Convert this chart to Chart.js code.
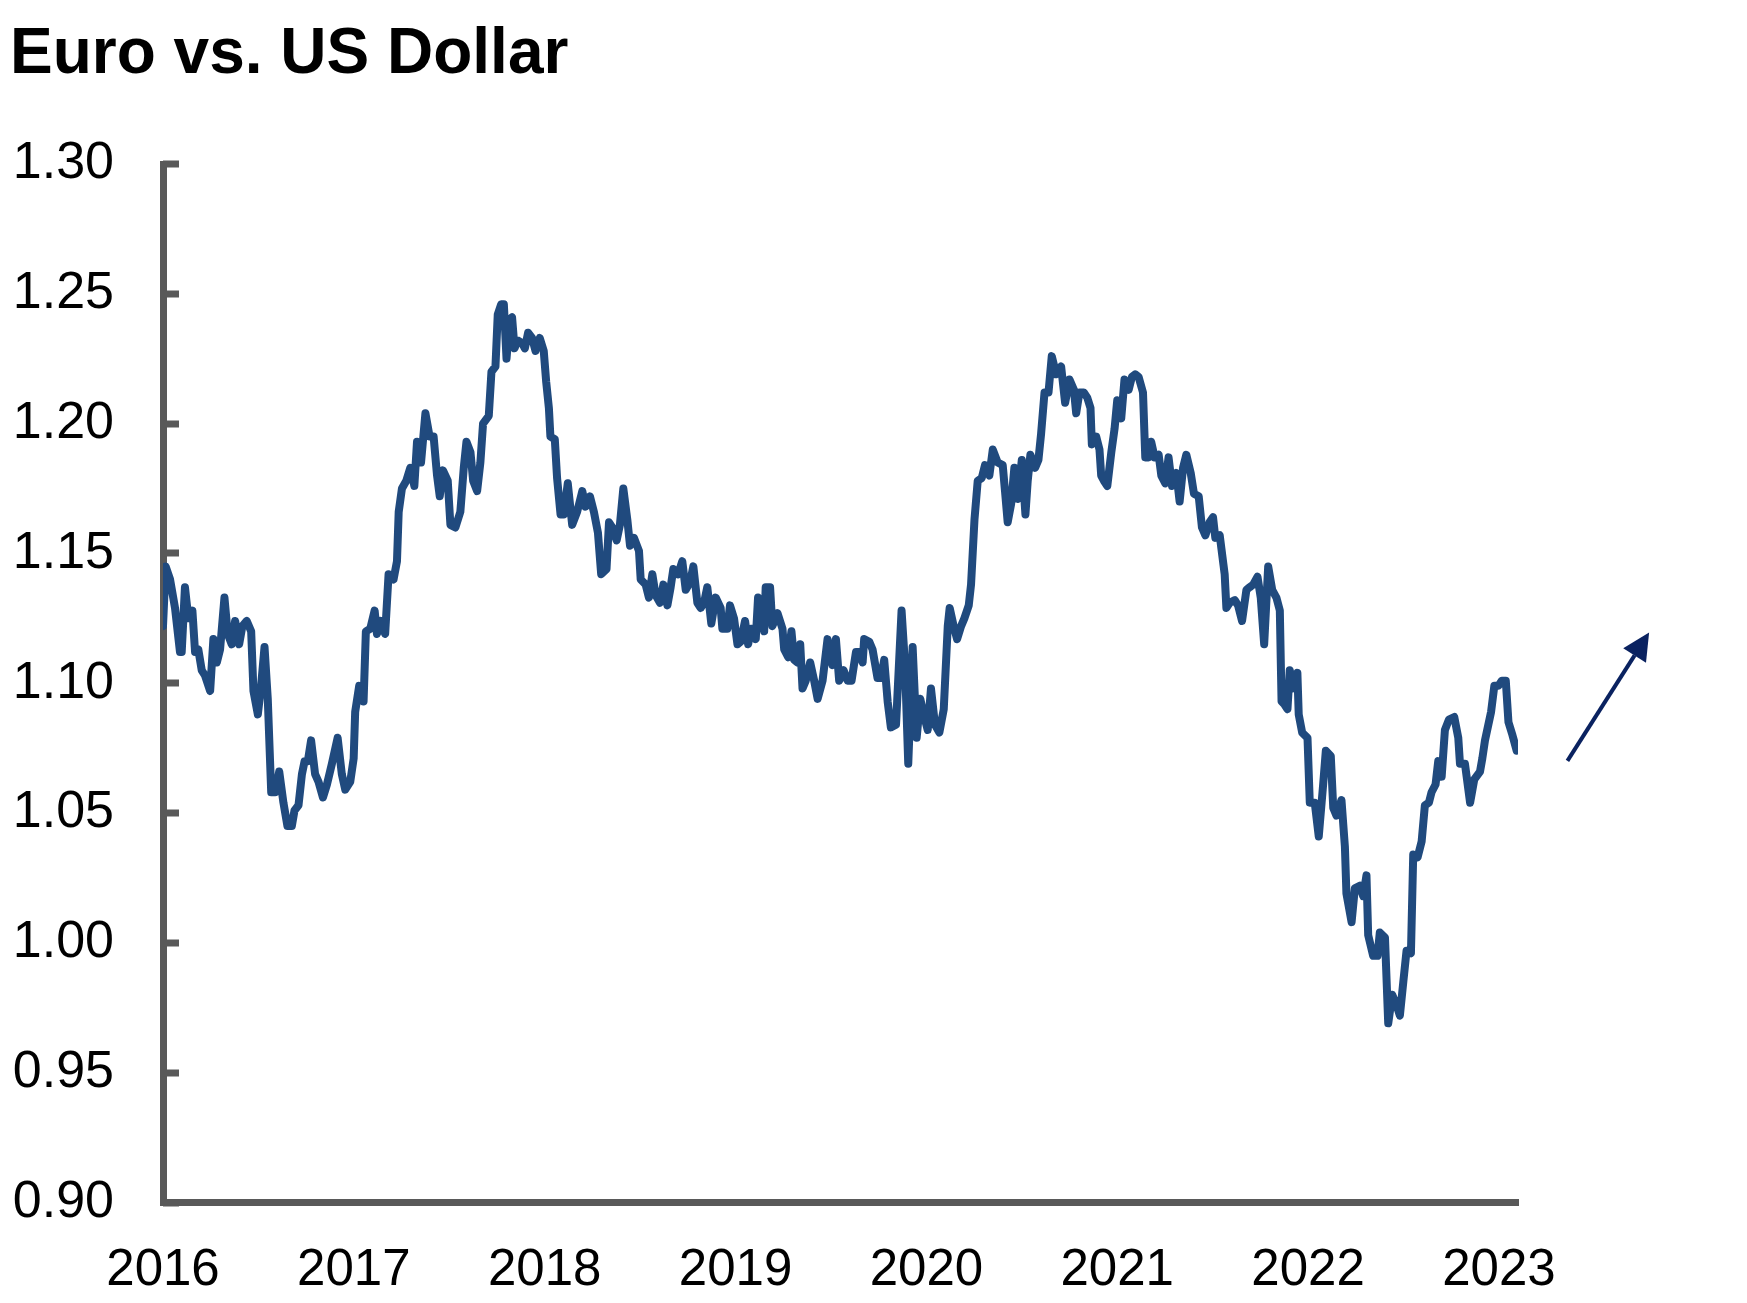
<!DOCTYPE html>
<html>
<head>
<meta charset="utf-8">
<script src="https://cdn.jsdelivr.net/npm/chart.js@4.4.1/dist/chart.umd.min.js"></script>
<style>
  html, body { margin: 0; padding: 0; background: #ffffff; }
  #wrap { width: 1747px; height: 1303px; position: relative; }
  canvas { display: block; }
</style>
</head>
<body>
<div id="wrap"><canvas id="c" width="1747" height="1303"></canvas></div>
<script>
// ---------------- DATA ----------------
const titleText = 'Euro vs. US Dollar';
const yearLabels = ['2016', '2017', '2018', '2019', '2020', '2021', '2022', '2023'];
const yTickLabels = ['0.90', '0.95', '1.00', '1.05', '1.10', '1.15', '1.20', '1.25', '1.30'];

// decimal-year dates of the EUR/USD observations
const dates = [
  2016.000, 2016.014, 2016.037, 2016.063, 2016.089, 2016.098, 2016.115, 2016.133, 2016.154, 2016.168,
  2016.185, 2016.203, 2016.220, 2016.247, 2016.264, 2016.282, 2016.299, 2016.322, 2016.339, 2016.360,
  2016.378, 2016.399, 2016.416, 2016.439, 2016.462, 2016.474, 2016.497, 2016.514, 2016.532, 2016.549,
  2016.567, 2016.588, 2016.609, 2016.631, 2016.652, 2016.675, 2016.689, 2016.710, 2016.728, 2016.742,
  2016.759, 2016.776, 2016.797, 2016.815, 2016.838, 2016.859, 2016.885, 2016.915, 2016.937, 2016.955,
  2016.981, 2016.999, 2017.007, 2017.028, 2017.042, 2017.051, 2017.063, 2017.086, 2017.109, 2017.121,
  2017.140, 2017.164, 2017.182, 2017.208, 2017.226, 2017.235, 2017.252, 2017.275, 2017.296, 2017.317,
  2017.331, 2017.352, 2017.375, 2017.397, 2017.418, 2017.436, 2017.450, 2017.467, 2017.492, 2017.506,
  2017.532, 2017.558, 2017.576, 2017.590, 2017.611, 2017.625, 2017.646, 2017.663, 2017.677, 2017.707,
  2017.721, 2017.742, 2017.754, 2017.772, 2017.786, 2017.800, 2017.817, 2017.829, 2017.842, 2017.859,
  2017.882, 2017.896, 2017.913, 2017.934, 2017.952, 2017.974, 2017.995, 2018.008, 2018.022, 2018.030,
  2018.053, 2018.065, 2018.083, 2018.100, 2018.121, 2018.144, 2018.170, 2018.197, 2018.214, 2018.237,
  2018.258, 2018.279, 2018.296, 2018.324, 2018.337, 2018.354, 2018.377, 2018.394, 2018.412, 2018.433,
  2018.447, 2018.468, 2018.494, 2018.503, 2018.529, 2018.546, 2018.564, 2018.581, 2018.604, 2018.622,
  2018.643, 2018.660, 2018.674, 2018.699, 2018.721, 2018.739, 2018.762, 2018.779, 2018.800, 2018.817,
  2018.835, 2018.852, 2018.873, 2018.896, 2018.922, 2018.931, 2018.957, 2018.971, 2018.992, 2019.010,
  2019.027, 2019.050, 2019.066, 2019.083, 2019.106, 2019.118, 2019.136, 2019.150, 2019.158, 2019.181,
  2019.193, 2019.220, 2019.246, 2019.255, 2019.276, 2019.293, 2019.307, 2019.325, 2019.339, 2019.351,
  2019.368, 2019.391, 2019.412, 2019.430, 2019.456, 2019.482, 2019.508, 2019.526, 2019.543, 2019.566,
  2019.587, 2019.608, 2019.631, 2019.648, 2019.666, 2019.674, 2019.701, 2019.718, 2019.744, 2019.762,
  2019.779, 2019.797, 2019.814, 2019.841, 2019.870, 2019.888, 2019.905, 2019.928, 2019.949, 2019.968,
  2019.986, 2020.007, 2020.024, 2020.045, 2020.068, 2020.091, 2020.112, 2020.122, 2020.143, 2020.161,
  2020.182, 2020.199, 2020.222, 2020.234, 2020.252, 2020.269, 2020.290, 2020.307, 2020.330, 2020.348,
  2020.374, 2020.400, 2020.412, 2020.426, 2020.444, 2020.461, 2020.479, 2020.500, 2020.519, 2020.531,
  2020.545, 2020.570, 2020.587, 2020.601, 2020.619, 2020.640, 2020.657, 2020.680, 2020.706, 2020.727,
  2020.750, 2020.773, 2020.785, 2020.802, 2020.825, 2020.843, 2020.860, 2020.867, 2020.890, 2020.907,
  2020.916, 2020.930, 2020.948, 2020.969, 2020.986, 2021.000, 2021.021, 2021.038, 2021.060, 2021.077,
  2021.094, 2021.112, 2021.135, 2021.147, 2021.164, 2021.178, 2021.196, 2021.217, 2021.231, 2021.252,
  2021.269, 2021.287, 2021.310, 2021.327, 2021.345, 2021.362, 2021.385, 2021.402, 2021.427, 2021.444,
  2021.462, 2021.484, 2021.502, 2021.514, 2021.537, 2021.563, 2021.572, 2021.589, 2021.616, 2021.633,
  2021.654, 2021.677, 2021.694, 2021.712, 2021.735, 2021.752, 2021.770, 2021.791, 2021.812, 2021.834,
  2021.852, 2021.861, 2021.875, 2021.892, 2021.904, 2021.922, 2021.944, 2021.951, 2021.969, 2021.997,
  2022.009, 2022.035, 2022.056, 2022.079, 2022.093, 2022.119, 2022.132, 2022.149, 2022.175, 2022.193,
  2022.201, 2022.228, 2022.245, 2022.271, 2022.289, 2022.306, 2022.315, 2022.341, 2022.364, 2022.376,
  2022.403, 2022.420, 2022.441, 2022.464, 2022.481, 2022.499, 2022.516, 2022.539, 2022.551, 2022.574,
  2022.595, 2022.612, 2022.633, 2022.647, 2022.668, 2022.682, 2022.700, 2022.717, 2022.738, 2022.766,
  2022.787, 2022.796, 2022.822, 2022.849, 2022.871, 2022.901, 2022.913, 2022.927, 2022.959, 2022.976,
  2022.997, 2023.015, 2023.036, 2023.050, 2023.071, 2023.093
];

// EUR/USD rate at each date
const rates = [
  1.122, 1.145, 1.140, 1.129, 1.112, 1.112, 1.137, 1.125, 1.128, 1.112,
  1.113, 1.105, 1.103, 1.097, 1.117, 1.108, 1.113, 1.133, 1.119, 1.115,
  1.124, 1.115, 1.122, 1.124, 1.120, 1.097, 1.088, 1.099, 1.114, 1.094,
  1.058, 1.058, 1.066, 1.054, 1.045, 1.045, 1.051, 1.053, 1.065, 1.070,
  1.070, 1.078, 1.065, 1.062, 1.056, 1.061, 1.069, 1.079, 1.065, 1.059,
  1.062, 1.071, 1.089, 1.099, 1.098, 1.093, 1.120, 1.121, 1.128, 1.119,
  1.124, 1.119, 1.142, 1.140, 1.147, 1.166, 1.175, 1.178, 1.183, 1.176,
  1.193, 1.185, 1.204, 1.195, 1.195, 1.180, 1.172, 1.182, 1.178, 1.161,
  1.160, 1.166, 1.183, 1.193, 1.189, 1.178, 1.174, 1.185, 1.200, 1.203,
  1.220, 1.222, 1.242, 1.246, 1.246, 1.225, 1.240, 1.241, 1.229, 1.232,
  1.231, 1.229, 1.235, 1.233, 1.228, 1.233, 1.228, 1.216, 1.206, 1.195,
  1.194, 1.179, 1.165, 1.165, 1.177, 1.161, 1.166, 1.174, 1.168, 1.172,
  1.166, 1.158, 1.142, 1.144, 1.162, 1.160, 1.155, 1.161, 1.175, 1.163,
  1.153, 1.156, 1.151, 1.140, 1.138, 1.133, 1.142, 1.134, 1.131, 1.138,
  1.130, 1.137, 1.144, 1.142, 1.147, 1.136, 1.139, 1.145, 1.131, 1.129,
  1.131, 1.137, 1.123, 1.133, 1.129, 1.121, 1.121, 1.130, 1.125, 1.115,
  1.116, 1.124, 1.115, 1.121, 1.117, 1.133, 1.126, 1.120, 1.137, 1.137,
  1.122, 1.127, 1.121, 1.113, 1.110, 1.120, 1.109, 1.108, 1.115, 1.098,
  1.101, 1.108, 1.101, 1.094, 1.101, 1.117, 1.107, 1.117, 1.101, 1.105,
  1.101, 1.101, 1.112, 1.112, 1.108, 1.117, 1.116, 1.113, 1.102, 1.102,
  1.109, 1.093, 1.083, 1.084, 1.128, 1.107, 1.069, 1.114, 1.079, 1.094,
  1.088, 1.082, 1.098, 1.084, 1.081, 1.090, 1.122, 1.129, 1.122, 1.117,
  1.122, 1.125, 1.130, 1.138, 1.163, 1.178, 1.179, 1.184, 1.180, 1.190,
  1.185, 1.184, 1.174, 1.162, 1.169, 1.183, 1.171, 1.186, 1.165, 1.178,
  1.188, 1.183, 1.186, 1.196, 1.212, 1.212, 1.226, 1.219, 1.222, 1.208,
  1.217, 1.213, 1.204, 1.212, 1.212, 1.210, 1.206, 1.192, 1.195, 1.190,
  1.180, 1.178, 1.176, 1.189, 1.198, 1.209, 1.202, 1.217, 1.213, 1.218,
  1.219, 1.218, 1.212, 1.187, 1.187, 1.193, 1.187, 1.188, 1.180, 1.177,
  1.187, 1.176, 1.181, 1.170, 1.183, 1.188, 1.181, 1.173, 1.172, 1.160,
  1.157, 1.162, 1.164, 1.156, 1.157, 1.142, 1.129, 1.131, 1.132, 1.130,
  1.124, 1.136, 1.137, 1.138, 1.141, 1.133, 1.115, 1.145, 1.136, 1.133,
  1.128, 1.093, 1.092, 1.090, 1.105, 1.098, 1.104, 1.088, 1.081, 1.079,
  1.054, 1.054, 1.041, 1.061, 1.074, 1.072, 1.052, 1.049, 1.055, 1.037,
  1.019, 1.008, 1.021, 1.022, 1.018, 1.026, 1.003, 0.995, 0.995, 1.004,
  1.002, 0.969, 0.980, 0.976, 0.972, 0.985, 0.997, 0.996, 1.034, 1.033,
  1.039, 1.053, 1.054, 1.058, 1.061, 1.070, 1.064, 1.082, 1.086, 1.087,
  1.079, 1.069, 1.069, 1.054, 1.063, 1.066, 1.071, 1.078, 1.089, 1.099,
  1.099, 1.101, 1.101, 1.085, 1.080, 1.074
];

// annotation arrow (data coordinates: decimal year, rate)
const arrowFrom = [2023.359, 1.0701];
const arrowTo = [2023.787, 1.1195];

// ---------------- STYLE ----------------
const AXIS_GREY = '#595959';
const LINE_BLUE = '#204a7e';
const ARROW_NAVY = '#0a2260';
const FONT = "'Liberation Sans', Arial, Helvetica, sans-serif";

const decor = {
  id: 'decor',
  beforeDatasetsDraw(chart) {
    const { ctx, scales: { x, y } } = chart;
    ctx.save();
    ctx.strokeStyle = AXIS_GREY;
    ctx.lineWidth = 7;
    ctx.lineCap = 'butt';
    y.ticks.forEach((t, i) => {
      const py = Math.round(y.getPixelForTick(i));
      ctx.beginPath();
      ctx.moveTo(x.left, py);
      ctx.lineTo(x.left + 16, py);
      ctx.stroke();
    });
    ctx.restore();
  },
  afterDraw(chart) {
    const { ctx, scales: { x, y } } = chart;
    const x0 = x.getPixelForValue(arrowFrom[0]);
    const y0 = y.getPixelForValue(arrowFrom[1]);
    const x1 = x.getPixelForValue(arrowTo[0]);
    const y1 = y.getPixelForValue(arrowTo[1]);
    const ang = Math.atan2(y1 - y0, x1 - x0);
    const headLen = 27, headHalf = 13.5;
    const bx = x1 - headLen * Math.cos(ang);
    const by = y1 - headLen * Math.sin(ang);
    ctx.save();
    ctx.strokeStyle = ARROW_NAVY;
    ctx.fillStyle = ARROW_NAVY;
    ctx.lineWidth = 4;
    ctx.beginPath();
    ctx.moveTo(x0, y0);
    ctx.lineTo(bx, by);
    ctx.stroke();
    ctx.beginPath();
    ctx.moveTo(x1, y1);
    ctx.lineTo(bx + headHalf * Math.sin(ang), by - headHalf * Math.cos(ang));
    ctx.lineTo(bx - headHalf * Math.sin(ang), by + headHalf * Math.cos(ang));
    ctx.closePath();
    ctx.fill();
    ctx.restore();
  }
};

const points = dates.map((d, i) => ({ x: d, y: rates[i] }));

new Chart(document.getElementById('c'), {
  type: 'line',
  data: {
    datasets: [{
      label: 'EUR/USD',
      data: points,
      borderColor: LINE_BLUE,
      borderWidth: 8,
      pointRadius: 0,
      pointHoverRadius: 0,
      tension: 0,
      fill: false,
      borderJoinStyle: 'round',
      borderCapStyle: 'round'
    }]
  },
  options: {
    responsive: false,
    animation: false,
    devicePixelRatio: 1,
    layout: { padding: { left: 10, right: 229, top: 0, bottom: 0 } },
    plugins: {
      legend: { display: false },
      tooltip: { enabled: false },
      title: {
        display: true,
        text: titleText,
        align: 'start',
        color: '#000000',
        font: { family: FONT, size: 64, weight: 'bold', lineHeight: 1.2 },
        padding: { top: 17, bottom: 70.2 }
      }
    },
    scales: {
      x: {
        type: 'linear',
        min: 2016,
        max: 2023.1,
        afterBuildTicks: (scale) => { scale.ticks = yearLabels.map(s => ({ value: Number(s) })); },
        afterFit: (scale) => { scale.height = 100.5; },
        ticks: {
          callback: (v, i) => yearLabels[i],
          color: '#000000',
          font: { family: FONT, size: 51 },
          padding: 38,
          maxRotation: 0,
          autoSkip: false
        },
        grid: { display: true, drawOnChartArea: false, drawTicks: false, color: 'rgba(0,0,0,0)' },
        border: { display: true, color: AXIS_GREY, width: 7 }
      },
      y: {
        type: 'linear',
        min: 0.9,
        max: 1.3,
        afterBuildTicks: (scale) => { scale.ticks = yTickLabels.map(s => ({ value: Number(s) })); },
        afterFit: (scale) => { scale.width = 153; },
        ticks: {
          callback: (v, i) => yTickLabels[i],
          color: '#000000',
          font: { family: FONT, size: 52 },
          padding: 49,
          autoSkip: false
        },
        grid: { display: true, drawOnChartArea: false, drawTicks: false, color: 'rgba(0,0,0,0)' },
        border: { display: true, color: AXIS_GREY, width: 7 }
      }
    }
  },
  plugins: [decor]
});
</script>
</body>
</html>
